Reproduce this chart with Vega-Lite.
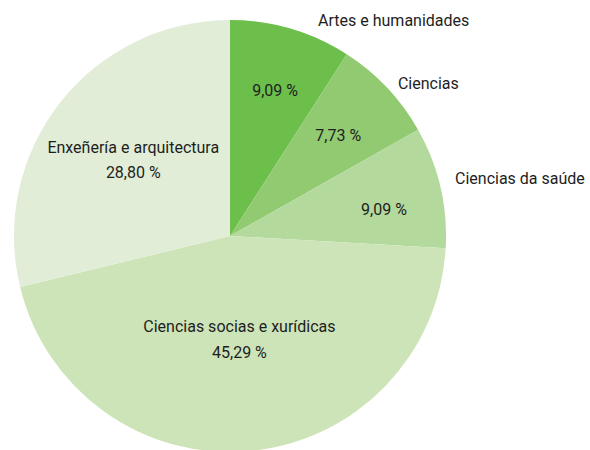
{
  "$schema": "https://vega.github.io/schema/vega-lite/v6.json",
  "width": 460,
  "height": 472,
  "padding": {"left": 0, "top": 0, "right": 130, "bottom": 0},
  "autosize": {"type": "none"},
  "background": "white",
  "config": {"view": {"stroke": null}, "text": {"font": "Roboto", "fontSize": 16, "color": "#1e1e1e"}},
  "data": {"values": [
    {"category": "Artes e humanidades", "value": 9.09, "pct": "9,09 %"},
    {"category": "Ciencias", "value": 7.73, "pct": "7,73 %"},
    {"category": "Ciencias da saúde", "value": 9.09, "pct": "9,09 %"},
    {"category": "Ciencias socias e xurídicas", "value": 45.29, "pct": "45,29 %"},
    {"category": "Enxeñería e arquitectura", "value": 28.80, "pct": "28,80 %"}
  ]},
  "encoding": {
    "theta": {"field": "value", "type": "quantitative", "stack": true},
    "order": {"field": "category", "sort": "ascending"}
  },
  "layer": [
    {
      "mark": {"type": "arc", "outerRadius": 216},
      "encoding": {
        "color": {"field": "category", "type": "nominal", "legend": null,
          "scale": {"domain": ["Artes e humanidades", "Ciencias", "Ciencias da saúde", "Ciencias socias e xurídicas", "Enxeñería e arquitectura"],
                    "range": ["#6dbf4b", "#92ca72", "#b3d99d", "#cde4b9", "#e1edd6"]}}
      }
    },
    {
      "mark": {"type": "text", "radius": 153, "align": "center", "baseline": "middle", "dx": 2, "dy": 2},
      "encoding": {"text": {"condition": {"test": "datum.category == 'Artes e humanidades'", "field": "pct"}, "value": ""}}
    },
    {
      "mark": {"type": "text", "radius": 153, "align": "center", "baseline": "middle", "dx": -3, "dy": 5},
      "encoding": {"text": {"condition": {"test": "datum.category == 'Ciencias'", "field": "pct"}, "value": ""}}
    },
    {
      "mark": {"type": "text", "radius": 153, "align": "center", "baseline": "middle", "dx": 5, "dy": 9},
      "encoding": {"text": {"condition": {"test": "datum.category == 'Ciencias da saúde'", "field": "pct"}, "value": ""}}
    },
    {
      "mark": {"type": "text", "radius": 231, "align": "left", "baseline": "middle", "dy": 7},
      "encoding": {"text": {"condition": {"test": "datum.category == 'Ciencias'", "field": "category"}, "value": ""}}
    },
    {
      "mark": {"type": "text", "radius": 231, "align": "left", "baseline": "middle", "dy": -5},
      "encoding": {"text": {"condition": {"test": "datum.category == 'Ciencias da saúde'", "field": "category"}, "value": ""}}
    },
    {
      "mark": {"type": "text", "radius": 231, "align": "left", "baseline": "middle", "dx": 23, "dy": 7},
      "encoding": {"text": {"condition": {"test": "datum.category == 'Artes e humanidades'", "field": "category"}, "value": ""}}
    },
    {
      "mark": {"type": "text", "radius": 104, "align": "center", "baseline": "middle", "dy": -13},
      "encoding": {"text": {"condition": {"test": "datum.category == 'Ciencias socias e xurídicas'", "field": "category"}, "value": ""}}
    },
    {
      "mark": {"type": "text", "radius": 104, "align": "center", "baseline": "middle", "dy": 13},
      "encoding": {"text": {"condition": {"test": "datum.category == 'Ciencias socias e xurídicas'", "field": "pct"}, "value": ""}}
    },
    {
      "mark": {"type": "text", "radius": 123, "align": "center", "baseline": "middle", "dy": -12},
      "encoding": {"text": {"condition": {"test": "datum.category == 'Enxeñería e arquitectura'", "field": "category"}, "value": ""}}
    },
    {
      "mark": {"type": "text", "radius": 123, "align": "center", "baseline": "middle", "dy": 13},
      "encoding": {"text": {"condition": {"test": "datum.category == 'Enxeñería e arquitectura'", "field": "pct"}, "value": ""}}
    }
  ]
}
